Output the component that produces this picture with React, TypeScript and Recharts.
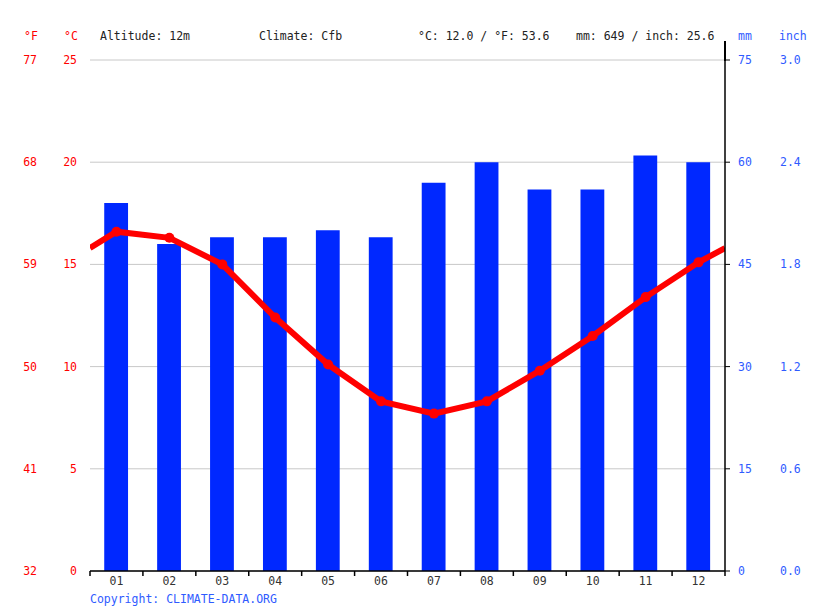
import React from "react";
import { ComposedChart, Bar, Line, XAxis, YAxis, CartesianGrid } from "recharts";

const months = ["01", "02", "03", "04", "05", "06", "07", "08", "09", "10", "11", "12"];
const precipitationMm = [54, 48, 49, 49, 50, 49, 57, 60, 56, 56, 61, 60];
const temperatureC = [16.6, 16.3, 15.0, 12.4, 10.1, 8.3, 7.7, 8.3, 9.8, 11.5, 13.4, 15.1];
const wrapTemperatureC = 15.8; // value of the line where it meets the plot edges
const celsiusTicks = [0, 5, 10, 15, 20, 25];
const fahrenheitTicks = [32, 41, 50, 59, 68, 77];
const mmTicks = [0, 15, 30, 45, 60, 75];
const inchTicks = [0, 0.6, 1.2, 1.8, 2.4, 3.0];
const boundaryTicks = [0, 1, 2, 3, 4, 5, 6, 7, 8, 9, 10, 11, 12];
const centerTicks = months.map((_, i) => i + 0.5);

const barData = months.map((m, i) => ({ pos: i + 0.5, month: m, mm: precipitationMm[i] }));
const lineData = [
  { pos: 0, month: "", temp: wrapTemperatureC },
  ...months.map((m, i) => ({ pos: i + 0.5, month: m, temp: temperatureC[i] })),
  { pos: 12, month: "", temp: wrapTemperatureC },
];

const FONT = "'DejaVu Sans Mono', monospace";
const RED = "#ff0000";
const BLUE = "#2f5bff";
const BAR = "#0028ff";

const RedDot = (props: any) => {
  const { cx, cy, payload, index } = props;
  if (!payload || !payload.month) return <g key={`d${index}`} />;
  return <circle key={`d${index}`} cx={cx} cy={cy} r={5} fill={RED} stroke="none" />;
};

const label = (text: string, left: number, color: string) => (
  <div
    style={{
      position: "absolute",
      left,
      top: 28,
      fontFamily: FONT,
      fontSize: 11.5,
      color,
      whiteSpace: "pre",
      lineHeight: "16px",
    }}
  >
    {text}
  </div>
);

export default function App() {
  return (
    <div style={{ position: "absolute", left: 0, top: 0, width: 815, height: 611, background: "#fff" }}>
      <ComposedChart
        width={815}
        height={611}
        data={barData}
        margin={{ top: 60, right: 10, bottom: 9, left: 10 }}
        style={{ fontFamily: FONT }}
      >
        <CartesianGrid yAxisId="a_c" xAxisId="b_lbl" vertical={false} stroke="#c8c8c8" strokeWidth={1} />
        <XAxis
          xAxisId="a_marks"
          type="number"
          dataKey="pos"
          domain={[0, 12]}
          ticks={boundaryTicks}
          tickFormatter={() => ""}
          tickSize={5}
          height={1}
          axisLine={{ stroke: "#000", strokeWidth: 1.5 }}
          tickLine={{ stroke: "#000", strokeWidth: 1.5 }}
          allowDataOverflow
        />
        <XAxis
          xAxisId="b_lbl"
          type="number"
          dataKey="pos"
          domain={[0, 12]}
          ticks={centerTicks}
          tickFormatter={(v: number) => months[Math.round(v - 0.5)]}
          axisLine={false}
          tickLine={false}
          tickSize={3}
          tickMargin={2}
          height={30}
          interval={0}
          tick={{ fill: "#333", fontSize: 11.5, fontFamily: FONT }}
          allowDataOverflow
        />
        <YAxis
          yAxisId="a_c"
          orientation="left"
          domain={[0, 25]}
          ticks={celsiusTicks}
          width={40}
          axisLine={false}
          tickLine={false}
          tickSize={13}
          tickMargin={0}
          interval={0}
          tick={{ fill: RED, fontSize: 11.5, fontFamily: FONT }}
          allowDataOverflow
        />
        <YAxis
          yAxisId="b_f"
          orientation="left"
          domain={[32, 77]}
          ticks={fahrenheitTicks}
          width={40}
          axisLine={false}
          tickLine={false}
          tickSize={13}
          tickMargin={0}
          interval={0}
          tick={{ fill: RED, fontSize: 11.5, fontFamily: FONT }}
          allowDataOverflow
        />
        <YAxis
          yAxisId="c_mm"
          orientation="right"
          domain={[0, 75]}
          ticks={mmTicks}
          width={40}
          axisLine={{ stroke: "#000", strokeWidth: 1.5 }}
          tickLine={{ stroke: "#000", strokeWidth: 1 }}
          tickSize={5}
          tickMargin={8}
          interval={0}
          tick={{ fill: BLUE, fontSize: 11.5, fontFamily: FONT }}
          allowDataOverflow
        />
        <YAxis
          yAxisId="d_in"
          orientation="right"
          domain={[0, 3]}
          ticks={inchTicks}
          tickFormatter={(v: number) => v.toFixed(1)}
          width={40}
          axisLine={false}
          tickLine={false}
          tickSize={15}
          tickMargin={0}
          interval={0}
          tick={{ fill: BLUE, fontSize: 11.5, fontFamily: FONT }}
          allowDataOverflow
        />
        <Bar
          xAxisId="b_lbl"
          yAxisId="c_mm"
          dataKey="mm"
          fill={BAR}
          barSize={27}
          isAnimationActive={false}
        />
        <Line
          xAxisId="b_lbl"
          yAxisId="a_c"
          data={lineData}
          dataKey="temp"
          type="linear"
          stroke={RED}
          strokeWidth={6}
          dot={RedDot}
          activeDot={false}
          isAnimationActive={false}
        />
      </ComposedChart>
      <div style={{ position: "absolute", left: 724, top: 41, width: 1.5, height: 20, background: "#000" }} />
      {label("°F", 24, RED)}
      {label("°C", 64, RED)}
      {label("Altitude: 12m", 100, "#222")}
      {label("Climate: Cfb", 259, "#222")}
      {label("°C: 12.0 / °F: 53.6", 418, "#222")}
      {label("mm: 649 / inch: 25.6", 576, "#222")}
      {label("mm", 738, BLUE)}
      {label("inch", 779, BLUE)}
      <div
        style={{
          position: "absolute",
          left: 90,
          top: 591,
          fontFamily: FONT,
          fontSize: 11.5,
          color: BLUE,
          whiteSpace: "pre",
          lineHeight: "16px",
        }}
      >
        Copyright: CLIMATE-DATA.ORG
      </div>
    </div>
  );
}
